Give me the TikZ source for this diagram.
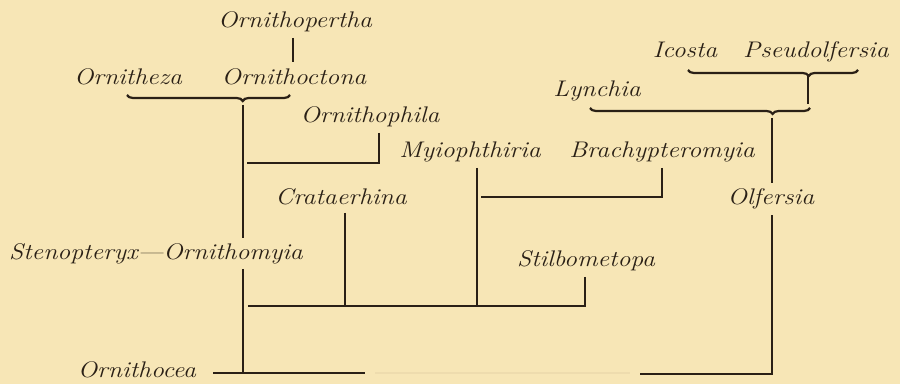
\documentclass[tikz,border=0pt]{standalone}
\usetikzlibrary{decorations.pathreplacing}
\definecolor{paper}{HTML}{F7E6B6}
\definecolor{ink}{HTML}{2A2016}
\definecolor{faint}{HTML}{EEDCAE}
\newcommand{\wide}[1]{\scalebox{1.14}[1]{#1}}
\begin{document}
\begin{tikzpicture}[x=0.5pt,y=-0.5pt,
  lab/.style={anchor=base,inner sep=0pt,text=ink,font=\fontsize{11.3}{13}\selectfont\itshape},
  ln/.style={draw=ink,line width=1.2pt},
  brc/.style={draw=ink,line width=1.1pt,decorate,decoration={brace,mirror,amplitude=3pt,aspect=#1}}]
\fill[paper] (0,0) rectangle (900,384);
\useasboundingbox (0,0) rectangle (900,384);
% labels
\node[lab] (opertha) at (295,28) {\wide{Ornithopertha}};
\node[lab] (otheza) at (128,85) {\wide{Ornitheza}};
\node[lab] (octona) at (294,85) {\wide{Ornithoctona}};
\node[lab] (ophila) at (370,123) {\wide{Ornithophila}};
\node[lab] (myio) at (470,158) {\wide{Myiophthiria}};
\node[lab] (brachy) at (662,158) {\wide{Brachypteromyia}};
\node[lab] (icosta) at (685,58) {\wide{Icosta}};
\node[lab] (pseud) at (816,58) {\wide{Pseudolfersia}};
\node[lab] (lynch) at (597,97) {\wide{Lynchia}};
\node[lab] (olf) at (771,205) {\wide{Olfersia}};
\node[lab] (crat) at (341,205) {\wide{Crataerhina}};
\node[lab] (omyia) at (156,260) {\wide{Stenopteryx---Ornithomyia}};
\node[lab] (stilb) at (586,267) {\wide{Stilbometopa}};
\node[lab] (ocea) at (137,378) {\wide{Ornithocea}};
% coordinates
\coordinate (a1) at (293,38); \coordinate (a2) at (293,62);
\coordinate (b1) at (127,95); \coordinate (b2) at (290,95);
\coordinate (m1) at (243,105); \coordinate (m2) at (243,238);
\coordinate (m3) at (243,269); \coordinate (m4) at (243,373);
\coordinate (p1) at (379,133); \coordinate (p2) at (379,163); \coordinate (p3) at (247,163);
\coordinate (q1) at (477,168); \coordinate (q2) at (477,306);
\coordinate (r1) at (662,168); \coordinate (r2) at (662,197); \coordinate (r3) at (481,197);
\coordinate (c1) at (345,213); \coordinate (c2) at (345,306);
\coordinate (s1) at (585,277); \coordinate (s2) at (585,306); \coordinate (s3) at (248,306);
\coordinate (z1) at (213,373); \coordinate (z2) at (365,373);
\coordinate (z3) at (375,373); \coordinate (z4) at (630,373);
\coordinate (z5) at (640,374); \coordinate (z6) at (772,374);
\coordinate (o1) at (772,215);
\coordinate (o2) at (772,118); \coordinate (o3) at (772,183);
\coordinate (l1) at (590,108); \coordinate (l2) at (810,108);
\coordinate (t1) at (688,70); \coordinate (t2) at (858,70);
\coordinate (v1) at (808,75); \coordinate (v2) at (808,104);
% connectors
\draw[ln] (a1) -- (a2);
\draw[brc=0.71] (b1) -- (b2);
\draw[ln] (m1) -- (m2);
\draw[ln] (m3) -- (m4);
\draw[ln] (p1) -- (p2) -- (p3);
\draw[ln] (q1) -- (q2);
\draw[ln] (r1) -- (r2) -- (r3);
\draw[ln] (c1) -- (c2);
\draw[ln] (s1) -- (s2) -- (s3);
\draw[ln] (z1) -- (z2);
\draw[draw=faint,line width=1.2pt] (z3) -- (z4);
\draw[ln] (z5) -- (z6) -- (o1);
\draw[ln] (o2) -- (o3);
\draw[brc=0.83] (l1) -- (l2);
\draw[brc=0.71] (t1) -- (t2);
\draw[ln] (v1) -- (v2);
\end{tikzpicture}
\end{document}
